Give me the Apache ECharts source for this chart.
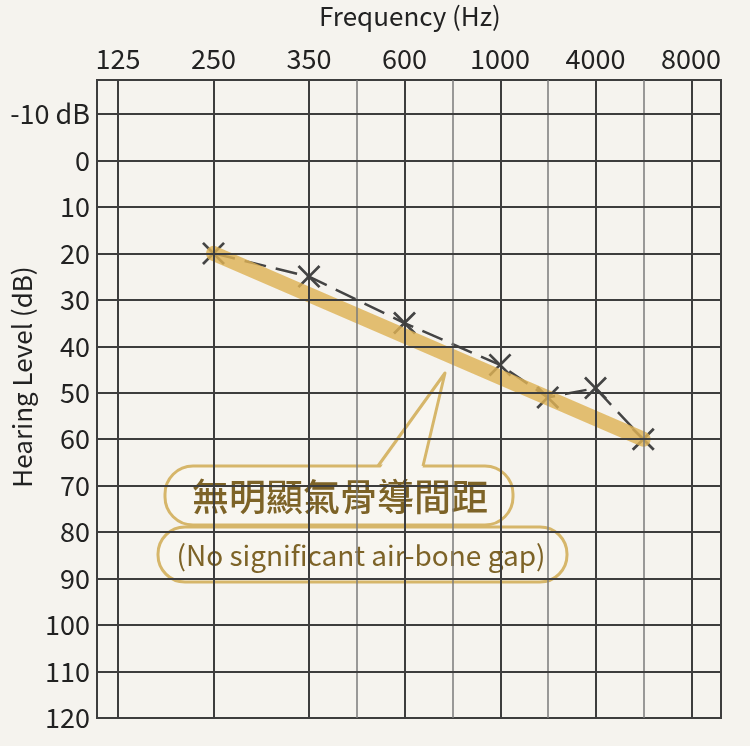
<!DOCTYPE html>
<html>
<head>
<meta charset="utf-8">
<script src="https://cdn.jsdelivr.net/npm/echarts@6/dist/echarts.min.js"></script>
<style>
    html, body { margin: 0; padding: 0; background: #f5f3ee; }
    #chart { width: 750px; height: 746px; }
</style>
</head>
<body>
<div id="chart"></div>
<script>
    // frequency labels, placed at positions 0..6 on the x axis
    var freqLabels = ['125', '250', '350', '600', '1000', '4000', '8000']
    var thickLines = [0, 1, 2, 3, 4, 5, 6]
    var thinLines = [2.5, 3.5, 4.5, 5.5]
    var dbLines = [-10, 0, 10, 20, 30, 40, 50, 60, 70, 80, 90, 100, 110]

    // air conduction (X markers) : [position, dB]
    var airX = [1, 2, 3, 4, 4.5, 5, 5.5]
    var airDb = [20, 25, 35, 44, 51, 49, 60]

    // yellow trend band
    var bandX = [1, 5.5]
    var bandDb = [20, 60]

    var font = "'Noto Sans CJK TC', 'Noto Sans', sans-serif"
    var crossPath = 'path://M0,1.7 L1.7,0 L10,8.3 L18.3,0 L20,1.7 L11.7,10 L20,18.3 L18.3,20 L10,11.7 L1.7,20 L0,18.3 L8.3,10 Z'

    function pairs(xs, ys) {
        return xs.map(function (x, i) { return [x, ys[i]] })
    }

    var gridLines = []
    thickLines.forEach(function (v) {
        gridLines.push({ xAxis: v, lineStyle: { color: '#3d3d3d', width: 2, type: 'solid' } })
    })
    thinLines.forEach(function (v) {
        gridLines.push({ xAxis: v, lineStyle: { color: '#7a7a7a', width: 1.5, type: 'solid' } })
    })
    dbLines.forEach(function (v) {
        gridLines.push({ yAxis: v, lineStyle: { color: '#3d3d3d', width: 2, type: 'solid' } })
    })

    var chart = echarts.init(document.getElementById('chart'), null, { renderer: 'canvas' })

    chart.setOption({
        backgroundColor: '#f5f3ee',
        animation: false,
        title: {
            text: 'Frequency (Hz)',
            left: 405,
            top: -2,
            textAlign: 'center',
            textStyle: { fontFamily: font, fontSize: 26, fontWeight: 'normal', color: '#222' }
        },
        grid: [
            // outer box with the full line grid
            { left: 97, right: 29, top: 80, bottom: 28, show: true, borderColor: '#3d3d3d', borderWidth: 2, backgroundColor: 'transparent', outerBoundsMode: 'none', containLabel: false },
            // inner grid carrying the labelled axes
            { left: 118, right: 59, top: 114, bottom: 28, show: false, outerBoundsMode: 'none', containLabel: false }
        ],
        xAxis: [
            { gridIndex: 0, type: 'value', min: -0.22, max: 6.31, show: false },
            {
                gridIndex: 1, type: 'value', position: 'top', min: 0, max: 6, interval: 1,
                axisLine: { show: false }, axisTick: { show: false }, splitLine: { show: false },
                axisLabel: {
                    margin: 42,
                    fontFamily: font, fontSize: 27, color: '#222',
                    formatter: function (v) { return freqLabels[v] || '' }
                }
            }
        ],
        yAxis: [
            { gridIndex: 0, type: 'value', inverse: true, min: -17.3, max: 120, show: false },
            {
                gridIndex: 1, type: 'value', inverse: true, min: -10, max: 120, interval: 10,
                axisLine: { show: false }, axisTick: { show: false }, splitLine: { show: false },
                axisLabel: {
                    margin: 28,
                    fontFamily: font, fontSize: 27, color: '#222',
                    formatter: function (v) { return v === -10 ? '-10 dB' : String(v) }
                }
            }
        ],
        series: [
            {
                type: 'line',
                xAxisIndex: 0,
                yAxisIndex: 0,
                data: [],
                silent: true,
                markLine: {
                    silent: true,
                    symbol: ['none', 'none'],
                    label: { show: false },
                    emphasis: { disabled: true },
                    data: gridLines
                }
            },
            {
                type: 'line',
                xAxisIndex: 1,
                yAxisIndex: 1,
                data: pairs(airX, airDb),
                symbol: crossPath,
                symbolSize: 23,
                itemStyle: { color: '#444' },
                lineStyle: { color: '#444', width: 2.5, type: [22, 10] },
                z: 3
            },
            {
                type: 'line',
                xAxisIndex: 1,
                yAxisIndex: 1,
                data: pairs(bandX, bandDb),
                symbol: 'none',
                lineStyle: { color: 'rgba(222, 178, 86, 0.82)', width: 15, cap: 'round' },
                z: 4
            }
        ],
        graphic: [
            {
                type: 'text',
                x: 22,
                y: 377,
                rotation: Math.PI / 2,
                style: {
                    text: 'Hearing Level (dB)',
                    align: 'center', verticalAlign: 'middle',
                    font: '26px ' + font,
                    fill: '#222'
                }
            },
            {
                type: 'group',
                z: 100,
                children: [
                    {
                        type: 'rect',
                        shape: { x: 158, y: 527, width: 409, height: 55, r: 27 },
                        style: { fill: '#f8f6f0', stroke: '#d6b66a', lineWidth: 3 }
                    },
                    {
                        type: 'rect',
                        shape: { x: 165, y: 466, width: 348, height: 59, r: 28 },
                        style: { fill: '#f8f6f0', stroke: '#d6b66a', lineWidth: 3 }
                    },
                    {
                        type: 'polygon',
                        shape: { points: [[379, 470], [445, 373], [422, 470]] },
                        style: { fill: '#f8f6f0' }
                    },
                    {
                        type: 'polyline',
                        shape: { points: [[378, 466], [445, 373], [423, 466]] },
                        style: { fill: null, stroke: '#d6b66a', lineWidth: 3, lineJoin: 'round' }
                    },
                    {
                        type: 'text',
                        style: {
                            text: '無明顯氣骨導間距',
                            x: 340, y: 497,
                            align: 'center', verticalAlign: 'middle',
                            font: '500 37px ' + font,
                            fill: '#7d6327'
                        }
                    },
                    {
                        type: 'text',
                        style: {
                            text: '(No significant air-bone gap)',
                            x: 361, y: 555,
                            align: 'center', verticalAlign: 'middle',
                            font: '28px ' + font,
                            fill: '#7d6327'
                        }
                    }
                ]
            }
        ]
    })

    window.addEventListener('resize', function () {
        chart.resize()
    })
</script>
</body>
</html>
